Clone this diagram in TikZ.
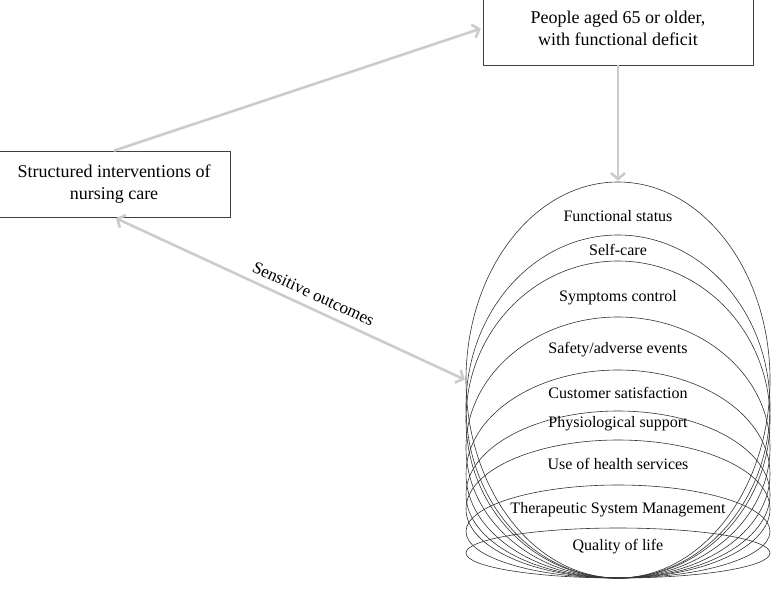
\documentclass[tikz,border=0pt]{standalone}
\usepackage{fontspec}
\setmainfont{Liberation Serif}
\usetikzlibrary{arrows.meta, shapes.geometric}

\begin{document}
\begin{tikzpicture}[x=1pt, y=-1pt, >={Straight Barb[length=6pt, width=14pt]},
  box/.style={draw=black!75, line width=0.7pt, align=center, font=\fontsize{18}{22}\selectfont},
  link/.style={line width=2.6pt, draw=black!20},
  oval/.style={ellipse, draw=black!80, line width=0.6pt, inner sep=0pt, minimum width=304pt},
  item/.style={font=\fontsize{16}{18}\selectfont}]
  \useasboundingbox (0,0) rectangle (773,589);
  \node[box, minimum width=232pt, minimum height=66pt] (care) at (114,184) {Structured interventions of\\nursing care};
  \node[box, minimum width=270pt, minimum height=74pt] (people) at (618,28) {People aged 65 or older,\\with functional deficit};
  \foreach \t [count=\i] in {182,235,261,317,370,411,440,485,528}
    \node[oval, minimum height={578-\t}] (e\i) at (618,{(578+\t)/2}) {};
  \foreach \y/\txt [count=\i] in {216/Functional status, 250/Self-care, 298/Symptoms control,
      350/Safety\slash adverse events, 393/Customer satisfaction, 424/Physiological support,
      464/Use of health services, 510/Therapeutic System Management, 547/Quality of life}
    \node[item] (o\i) at (618,\y) {\txt};
  \draw[link, ->, shorten >=2pt] (care.north) -- (people.west);
  \draw[link, ->, shorten >=1pt] (people.south) -- (e1.north);
  \draw[link, <->, shorten <=2pt, shorten >=1pt] (care.south) -- (e1.west)
    node[pos=0.55, above=4pt, sloped, font=\fontsize{17}{20}\selectfont] (sens) {Sensitive outcomes};
\end{tikzpicture}
\end{document}
